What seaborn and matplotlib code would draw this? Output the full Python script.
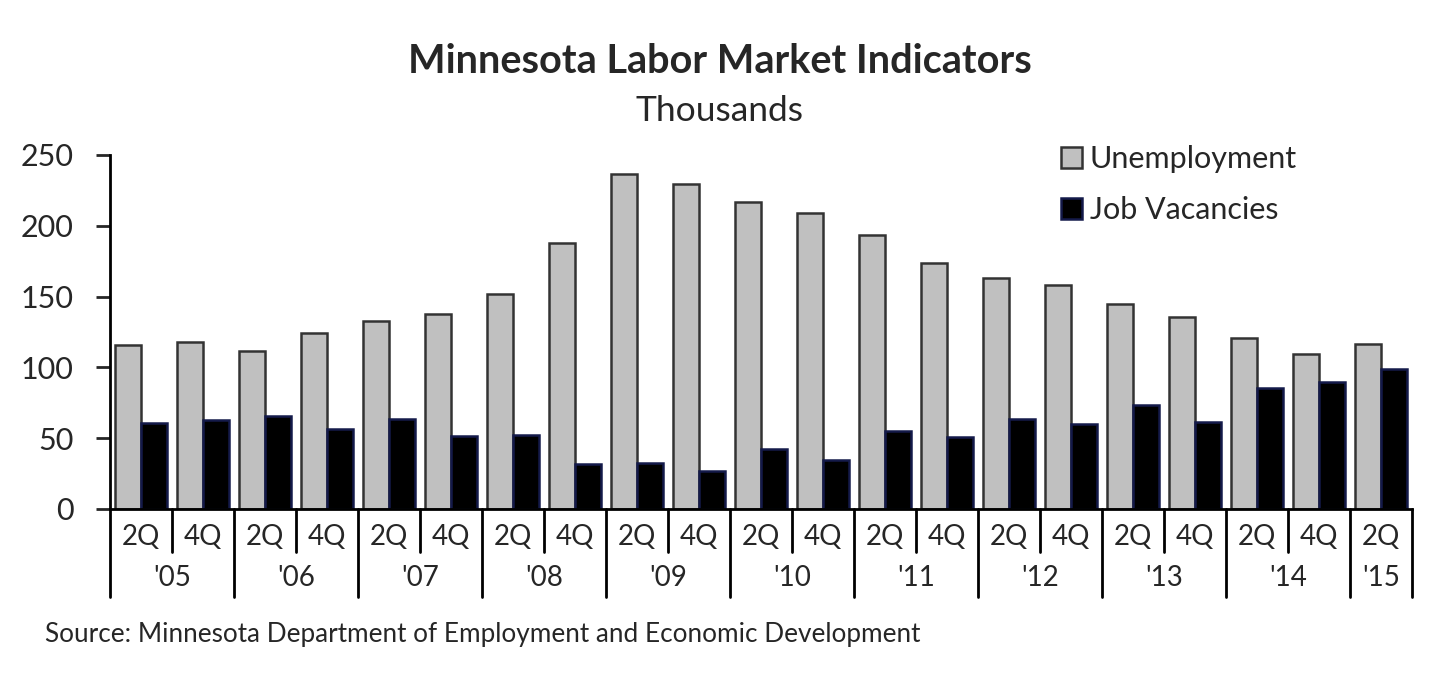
import pandas as pd
import seaborn as sns
import matplotlib.pyplot as plt
from matplotlib.patches import Patch

# data (thousands)
periods = ["2Q '05", "4Q '05", "2Q '06", "4Q '06", "2Q '07", "4Q '07", "2Q '08", "4Q '08",
           "2Q '09", "4Q '09", "2Q '10", "4Q '10", "2Q '11", "4Q '11", "2Q '12", "4Q '12",
           "2Q '13", "4Q '13", "2Q '14", "4Q '14", "2Q '15"]
quarters = ['2Q', '4Q'] * 10 + ['2Q']
years = ["'05", "'06", "'07", "'08", "'09", "'10", "'11", "'12", "'13", "'14", "'15"]
unemployment = [115.6, 118, 111.5, 124, 132.5, 138, 152, 188, 236.3, 229.3, 216.8,
                209, 193.6, 173.6, 163.3, 158.4, 144.5, 135.5, 121, 109.7, 116.5]
vacancies = [60.4, 62.5, 65.7, 56.6, 63.6, 51.4, 52.1, 31.7, 32.2, 26.5, 42.3,
             34.5, 55.2, 50.5, 63.6, 59.7, 73.1, 61.1, 85.3, 89.5, 98.7]
series = ['Unemployment', 'Job Vacancies']

sns.set_style('white')
plt.rcParams['font.family'] = ['Lato', 'DejaVu Sans']

df = pd.DataFrame({
    'period': periods * 2,
    'value': unemployment + vacancies,
    'series': [series[0]] * len(periods) + [series[1]] * len(periods),
})

fig = plt.figure(figsize=(14.4, 7.0), dpi=100)
ax = fig.add_axes([0.0764, 0.2729, 0.9042, 0.5057])

sns.barplot(data=df, x='period', y='value', hue='series', order=periods, hue_order=series,
            palette=['#c0c0c0', '#000000'], width=0.84, ax=ax, legend=False)

edge_cols = ['#333333', '#141a4a']
for cont, ec in zip(ax.containers, edge_cols):
    for bar in cont:
        bar.set_edgecolor(ec)
        bar.set_linewidth(1.8)

ax.set_xlim(-0.5, len(periods) - 0.5)
ax.set_ylim(0, 250)
ax.set_yticks(range(0, 251, 50))
ax.tick_params(axis='y', labelsize=22, length=10, width=2, direction='out', pad=16, left=True)
ax.set_xticks([])
ax.set_xlabel('')
ax.set_ylabel('')
for s in ['top', 'right']:
    ax.spines[s].set_visible(False)
for s in ['left', 'bottom']:
    ax.spines[s].set_linewidth(2)
    ax.spines[s].set_color('black')

# two-level category axis
tr = ax.get_xaxis_transform()
for i, q in enumerate(quarters):
    ax.text(i, -0.079, q, transform=tr, ha='center', va='center', fontsize=20)
ax.plot([-0.5, -0.5], [0, -0.249], transform=tr, color='black', lw=2, clip_on=False)
for yr in years:
    idx = [i for i, p in enumerate(periods) if p.endswith(yr)]
    if len(idx) == 2:
        ax.plot([idx[0] + 0.5] * 2, [0, -0.121], transform=tr, color='black', lw=2, clip_on=False)
    ax.plot([idx[-1] + 0.5] * 2, [0, -0.249], transform=tr, color='black', lw=2, clip_on=False)
    ax.text(sum(idx) / len(idx), -0.196, yr, transform=tr, ha='center', va='center', fontsize=20)

handles = [Patch(facecolor='#c0c0c0', edgecolor='#333333', linewidth=1.8),
           Patch(facecolor='#000000', edgecolor='#141a4a', linewidth=1.8)]
ax.legend(handles, series, loc='upper left', bbox_to_anchor=(0.726, 0.814),
          bbox_transform=fig.transFigure, frameon=False, fontsize=22, borderpad=0,
          handlelength=0.7, handleheight=0.7, handletextpad=0.25, labelspacing=0.75)

fig.text(0.5, 0.912, 'Minnesota Labor Market Indicators', ha='center', va='center',
         fontsize=28.5, fontweight='bold')
fig.text(0.5, 0.841, 'Thousands', ha='center', va='center', fontsize=25.5)
fig.text(0.031, 0.094, 'Source: Minnesota Department of Employment and Economic Development',
         ha='left', va='center', fontsize=18.8)

fig.savefig('out.png', dpi=100, facecolor='white')
